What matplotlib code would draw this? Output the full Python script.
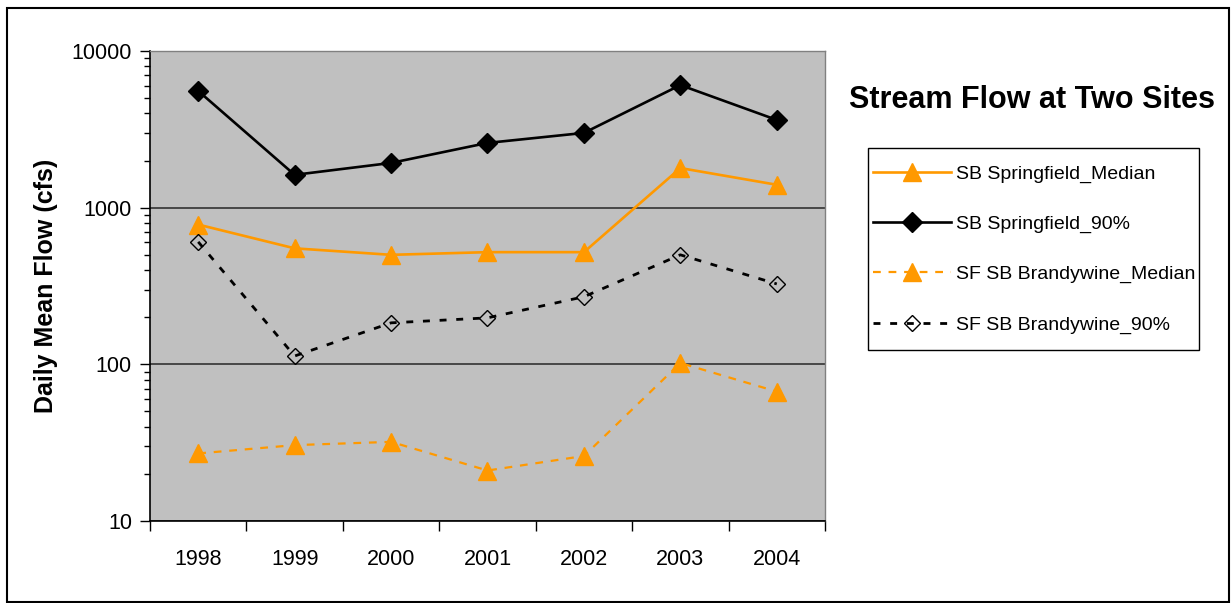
import matplotlib
matplotlib.use('Agg')
from matplotlib import pyplot as plt
from matplotlib.patches import Rectangle
from matplotlib.ticker import FixedLocator, NullFormatter, LogLocator

years = ['1998', '1999', '2000', '2001', '2002', '2003', '2004']
sb_median = [780, 550, 500, 520, 520, 1790, 1400]
sb_90 = [5560, 1620, 1930, 2590, 3000, 6060, 3630]
sf_median = [27, 30.5, 32, 21, 26, 102, 67]
sf_90 = [605, 113, 184, 198, 270, 500, 326]

plt.rcParams['font.family'] = ['Liberation Sans', 'DejaVu Sans']

ORANGE = '#FF9900'
W, H = 1231, 603

fig = plt.figure(figsize=(12.31, 6.03), dpi=100)
# outer chart border
fig.patches.append(Rectangle((7 / W, 1 - 602 / H), 1222 / W, 594 / H,
                             transform=fig.transFigure, fill=False,
                             edgecolor='black', linewidth=1.5))

ax = fig.add_axes([150 / W, 1 - 521 / H, 675 / W, 470 / H])
ax.set_facecolor('#C0C0C0')
x = list(range(len(years)))

ax.plot(x, sb_median, color=ORANGE, lw=1.9, marker='^', ms=13,
        mec=ORANGE, mfc=ORANGE, label='SB Springfield_Median', zorder=3)
ax.plot(x, sb_90, color='black', lw=1.9, marker='D', ms=10,
        label='SB Springfield_90%', zorder=3)
ax.plot(x, sf_median, color=ORANGE, lw=1.6, dashes=(3.5, 3.5), marker='^', ms=13,
        mec=ORANGE, mfc=ORANGE, label='SF SB Brandywine_Median', zorder=3)
ax.plot(x, sf_90, color='black', lw=2.0, dashes=(2.5, 3.5), marker='D', ms=8,
        mfc='none', mec='black', mew=1.0, label='SF SB Brandywine_90%', zorder=3)

ax.set_yscale('log')
ax.set_ylim(10, 10000)
ax.set_xlim(-0.5, len(years) - 0.5)
ax.yaxis.set_major_locator(FixedLocator([10, 100, 1000, 10000]))
ax.yaxis.set_major_formatter(matplotlib.ticker.FixedFormatter(['10', '100', '1000', '10000']))
ax.yaxis.set_minor_locator(LogLocator(base=10, subs=range(2, 10)))
ax.yaxis.set_minor_formatter(NullFormatter())
ax.tick_params(axis='y', which='major', length=7, width=1, labelsize=15.5, pad=6)
ax.tick_params(axis='y', which='minor', length=4, width=1)

# category axis: ticks between years, labels centred
ax.set_xticks([i - 0.5 for i in range(len(years) + 1)])
ax.set_xticklabels([])
ax.set_xticks(x, minor=True)
ax.set_xticklabels(years, minor=True)
ax.tick_params(axis='x', which='major', length=7, width=1)
ax.tick_params(axis='x', which='minor', length=0, labelsize=15.5, pad=20)

ax.grid(True, axis='y', which='major', color='#333333', lw=1.2)
for side in ['top', 'right']:
    ax.spines[side].set_color('#808080')
    ax.spines[side].set_linewidth(1)
for side in ['left', 'bottom']:
    ax.spines[side].set_color('black')
    ax.spines[side].set_linewidth(1.2)

ax.set_ylabel('Daily Mean Flow (cfs)', fontsize=18, fontweight='bold', labelpad=10)

fig.text(1032 / W, 1 - 100 / H, 'Stream Flow at Two Sites', fontsize=22,
         fontweight='bold', ha='center', va='center')

# legend without its own frame; box drawn separately
leg = fig.legend(loc='upper left', bbox_to_anchor=(873 / W, 1 - 165 / H),
                 fontsize=14, handlelength=4.0, labelspacing=1.67, borderpad=0,
                 handletextpad=0.25, borderaxespad=0, frameon=False)
fig.patches.append(Rectangle((868 / W, 1 - 350 / H), 331 / W, 202 / H,
                             transform=fig.transFigure, facecolor='white',
                             edgecolor='black', linewidth=1, zorder=0))

fig.savefig('out.png', dpi=100)
